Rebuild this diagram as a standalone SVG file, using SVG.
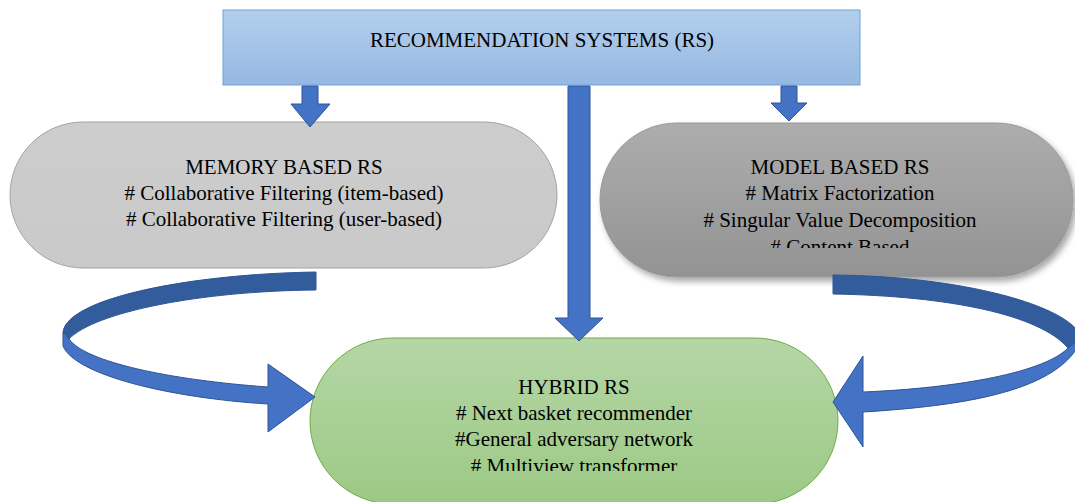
<svg xmlns="http://www.w3.org/2000/svg" width="1075" height="502" viewBox="0 0 1075 502">
<defs>
<linearGradient id="gTop" x1="0" y1="0" x2="0" y2="1"><stop offset="0" stop-color="#b3cfec"/><stop offset="1" stop-color="#95b8e2"/></linearGradient>
<linearGradient id="gMem" x1="0" y1="0" x2="0" y2="1"><stop offset="0" stop-color="#cdcdcd"/><stop offset="1" stop-color="#c9c9c9"/></linearGradient>
<linearGradient id="gMod" x1="0" y1="0" x2="0" y2="1"><stop offset="0" stop-color="#adadad"/><stop offset="1" stop-color="#939393"/></linearGradient>
<linearGradient id="gHyb" x1="0" y1="0" x2="0" y2="1"><stop offset="0" stop-color="#b5d6a6"/><stop offset="1" stop-color="#9cc985"/></linearGradient>
<filter id="sh" x="-10%" y="-20%" width="125%" height="150%"><feDropShadow dx="3" dy="4" stdDeviation="3" flood-color="#000" flood-opacity="0.35"/></filter>
<clipPath id="clipMod"><rect x="600" y="120" width="480" height="128"/></clipPath>
<clipPath id="clipHyb"><rect x="310" y="330" width="530" height="141"/></clipPath>
</defs>
<style>
.t{font-family:'Liberation Serif','Times New Roman',serif;font-size:21px;fill:#000;text-anchor:middle}
.arr{fill:#4472c4;stroke:#2f5597;stroke-width:1}
.dark{fill:#335c9c;stroke:#2f5597;stroke-width:1}
</style>
<g id="node-rs">
<rect x="223" y="10" width="637" height="75" fill="url(#gTop)" stroke="#6fa3d9" stroke-width="1"/>
<text class="t" x="542" y="47">RECOMMENDATION SYSTEMS (RS)</text>
</g>
<g id="node-memory">
<rect x="10" y="122" width="547" height="146" rx="73" fill="url(#gMem)" stroke="#a3a3a3" stroke-width="1"/>
<text class="t" x="284" y="174">MEMORY BASED RS</text>
<text class="t" x="284" y="200"># Collaborative Filtering (item-based)</text>
<text class="t" x="284" y="226"># Collaborative Filtering (user-based)</text>
</g>
<g id="node-model">
<rect x="600" y="123" width="473" height="154" rx="77" fill="url(#gMod)" stroke="#9a9a9a" stroke-width="1" filter="url(#sh)"/>
<g clip-path="url(#clipMod)">
<text class="t" x="840" y="174">MODEL BASED RS</text>
<text class="t" x="840" y="200"># Matrix Factorization</text>
<text class="t" x="840" y="227"># Singular Value Decomposition</text>
<text class="t" x="840" y="254"># Content Based</text>
</g>
</g>
<g id="node-hybrid">
<rect x="310" y="338" width="528" height="166" rx="83" fill="url(#gHyb)" stroke="#70ad47" stroke-width="1"/>
<g clip-path="url(#clipHyb)">
<text class="t" x="574" y="394">HYBRID RS</text>
<text class="t" x="574" y="420"># Next basket recommender</text>
<text class="t" x="574" y="446">#General adversary network</text>
<text class="t" x="574" y="473"># Multiview transformer</text>
</g>
</g>
<g id="connectors">
<path class="arr" d="M302,86 L318,86 L318,104 L330,104 L310,127 L291,104 L302,104 Z"/>
<path class="arr" d="M781,86 L797,86 L797,103 L807,103 L789,121 L771,103 L781,103 Z"/>
<path class="arr" d="M568,86 L590,86 L590,318 L603,318 L579,341 L555,318 L568,318 Z"/>
<path class="dark" d="M316,272 C190,274 68,298 63,332 L69,339 C95,312 200,291 316,290 Z"/>
<path class="arr" d="M63,332 L63,346 C75,375 170,398 268,404 L268,432 L315,397 L268,364 L268,387 C170,380 85,362 69,339 Z"/>
<path class="dark" d="M833,275 C960,276 1070,305 1082,338 L1068,348 C1040,315 950,296 833,294 Z"/>
<path class="arr" d="M1068,348 C1045,372 960,388 863,392 L863,356 L833,402 L863,447 L863,412 C960,406 1062,392 1082,338 Z"/>
</g>
</svg>
